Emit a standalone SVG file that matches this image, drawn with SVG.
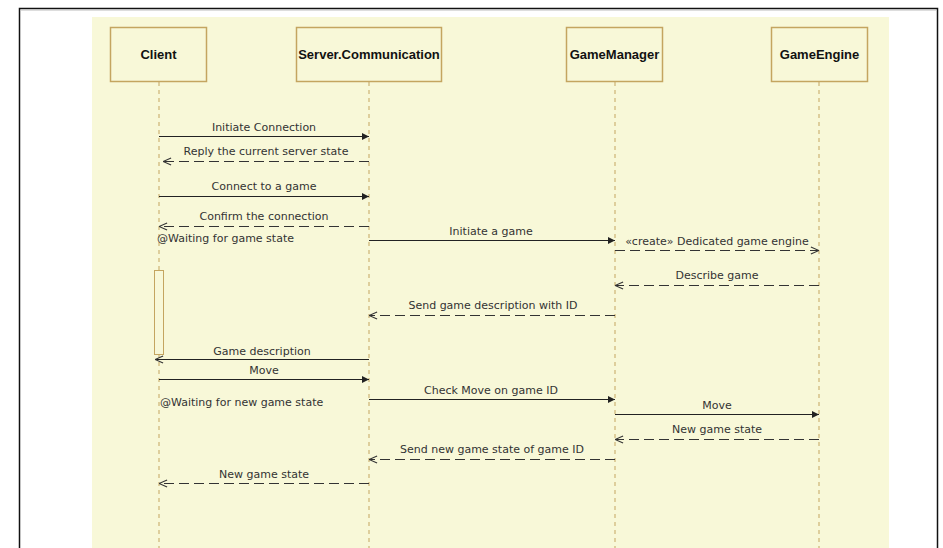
<svg xmlns="http://www.w3.org/2000/svg" width="943" height="548" viewBox="0 0 943 548">
  <defs>
    <marker id="filled" viewBox="0 0 10 10" refX="10" refY="5" markerWidth="9" markerHeight="7" markerUnits="userSpaceOnUse" orient="auto">
      <path d="M0,0 L10,5 L0,10 Z" fill="#222"/>
    </marker>
    <marker id="open" viewBox="0 0 10 10" refX="10" refY="5" markerWidth="9" markerHeight="9" markerUnits="userSpaceOnUse" orient="auto">
      <path d="M1,1 L10,5 L1,9" fill="none" stroke="#333" stroke-width="1.2"/>
    </marker>
  </defs>
  <style>
    .frame { fill: #ffffff; stroke: #111; stroke-width: 1.5; }
    .panel { fill: #f8f8d8; }
    .head { fill: #f8f8d8; stroke: #c4a560; stroke-width: 1.5; }
    .head-text { font-family: "Liberation Sans", Arial, sans-serif; font-weight: bold; font-size: 13px; fill: #111; text-anchor: middle; }
    .life { stroke: #c4a560; stroke-width: 1; stroke-dasharray: 4 4; fill: none; }
    .act { fill: #f8f8d8; stroke: #c4a560; stroke-width: 1; }
    .msg { stroke: #222; stroke-width: 1; fill: none; }
    .reply { stroke: #333; stroke-width: 1; fill: none; stroke-dasharray: 10 5; }
    .sync { marker-end: url(#filled); }
    .ret { marker-end: url(#open); }
    .lbl { font-family: "DejaVu Sans", Verdana, sans-serif; font-size: 11px; fill: #333; text-anchor: middle; }
    .note { font-family: "DejaVu Sans", Verdana, sans-serif; font-size: 11px; fill: #333; }
  </style>

  <!-- page frame and diagram panel -->
  <rect class="frame" x="19.5" y="8.5" width="918" height="560"/>
  <line x1="21" y1="10" x2="936" y2="10" stroke="#bbb" stroke-width="1"/>
  <rect class="panel" x="92" y="17" width="797" height="540"/>

  <!-- lifelines -->
  <g id="lifelines">
    <line class="life" x1="159" y1="82" x2="159" y2="548"/>
    <line class="life" x1="369" y1="82" x2="369" y2="548"/>
    <line class="life" x1="615" y1="82" x2="615" y2="548"/>
    <line class="life" x1="819" y1="82" x2="819" y2="548"/>
  </g>

  <g id="client">
    <rect class="head" x="110.5" y="27.5" width="96" height="54"/>
    <text class="head-text" x="158.5" y="59">Client</text>
    <rect class="act" x="154.5" y="270.5" width="9" height="84"/>
  </g>
  <g id="server-communication">
    <rect class="head" x="296.5" y="27.5" width="145" height="54"/>
    <text class="head-text" x="369" y="59">Server.Communication</text>
  </g>
  <g id="game-manager">
    <rect class="head" x="566.5" y="27.5" width="96" height="54"/>
    <text class="head-text" x="614.5" y="59">GameManager</text>
  </g>
  <g id="game-engine">
    <rect class="head" x="771.5" y="27.5" width="96" height="54"/>
    <text class="head-text" x="819.5" y="59">GameEngine</text>
  </g>

  <!-- messages -->
  <g id="connectors">
    <line class="msg sync" x1="159" y1="136.5" x2="369" y2="136.5"/>
    <text class="lbl" x="264" y="131">Initiate Connection</text>

    <line class="reply ret" x1="369" y1="161.5" x2="163" y2="161.5"/>
    <text class="lbl" x="266" y="155">Reply the current server state</text>

    <line class="msg sync" x1="159" y1="196.5" x2="369" y2="196.5"/>
    <text class="lbl" x="264" y="190">Connect to a game</text>

    <line class="reply ret" x1="369" y1="226.5" x2="159" y2="226.5"/>
    <text class="lbl" x="264" y="220">Confirm the connection</text>

    <text class="note" x="157" y="242">@Waiting for game state</text>

    <line class="msg sync" x1="369" y1="240.5" x2="615" y2="240.5"/>
    <text class="lbl" x="491" y="235">Initiate a game</text>

    <line class="reply ret" x1="615" y1="250.5" x2="819" y2="250.5"/>
    <text class="lbl" x="717" y="245">«create» Dedicated game engine</text>

    <line class="reply ret" x1="819" y1="285.5" x2="615" y2="285.5"/>
    <text class="lbl" x="717" y="279">Describe game</text>

    <line class="reply ret" x1="615" y1="315.5" x2="369" y2="315.5"/>
    <text class="lbl" x="493" y="309">Send game description with ID</text>

    <line class="msg ret" x1="369" y1="359.5" x2="155" y2="359.5"/>
    <text class="lbl" x="262" y="355">Game description</text>

    <line class="msg sync" x1="159" y1="379.5" x2="369" y2="379.5"/>
    <text class="lbl" x="264" y="374">Move</text>

    <text class="note" x="160" y="406">@Waiting for new game state</text>

    <line class="msg sync" x1="369" y1="399.5" x2="615" y2="399.5"/>
    <text class="lbl" x="491" y="394">Check Move on game ID</text>

    <line class="msg sync" x1="615" y1="414.5" x2="819" y2="414.5"/>
    <text class="lbl" x="717" y="409">Move</text>

    <line class="reply ret" x1="819" y1="439.5" x2="615" y2="439.5"/>
    <text class="lbl" x="717" y="433">New game state</text>

    <line class="reply ret" x1="615" y1="459.5" x2="369" y2="459.5"/>
    <text class="lbl" x="492" y="453">Send new game state of game ID</text>

    <line class="reply ret" x1="369" y1="483.5" x2="159" y2="483.5"/>
    <text class="lbl" x="264" y="478">New game state</text>
  </g>
</svg>
